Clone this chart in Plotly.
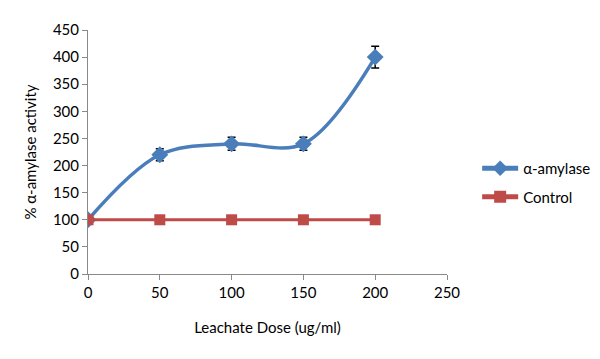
import plotly.graph_objects as go

doses = [0, 50, 100, 150, 200]
amylase = [100, 220, 240, 240, 400]
amylase_err = [0, 11, 12, 12, 20]
control = [100, 100, 100, 100, 100]
x_ticks = [0, 50, 100, 150, 200, 250]
y_ticks = [0, 50, 100, 150, 200, 250, 300, 350, 400, 450]

FONT = "Lato, 'Open Sans', sans-serif"
AXIS_COLOR = "#898989"
FS = 15

fig = go.Figure()
fig.add_trace(go.Scatter(
    x=doses, y=amylase, name="α-amylase", mode="lines+markers",
    line=dict(color="#4a7ebb", width=3.5, shape="spline", smoothing=1.0),
    marker=dict(symbol="diamond", size=13, color="#4a7ebb"),
    error_y=dict(type="data", array=amylase_err, visible=True,
                 color="#000000", thickness=1.5, width=4),
    legendgroup="a",
))
fig.add_trace(go.Scatter(
    x=doses, y=control, name="Control", mode="lines+markers",
    line=dict(color="#be4b48", width=3),
    marker=dict(symbol="square", size=11, color="#be4b48"),
    legendgroup="b",
))

fig.update_layout(
    width=600, height=359,
    margin=dict(l=80, r=161, t=13, b=93),
    paper_bgcolor="white", plot_bgcolor="white",
    font=dict(family=FONT, size=FS, color="#000000"),
    showlegend=True,
    legend=dict(x=1.084, y=0.5, xanchor="left", yanchor="top",
                tracegroupgap=6, font=dict(size=FS), itemwidth=36,
                itemsizing="constant",
                bgcolor="rgba(0,0,0,0)"),
    xaxis=dict(range=[0, 250], tickvals=x_ticks, showgrid=False, zeroline=False,
               showline=True, linecolor=AXIS_COLOR, linewidth=1,
               ticks="outside", tickcolor=AXIS_COLOR, ticklen=5,
               tickfont=dict(size=FS),
               title=dict(text="Leachate Dose (ug/ml)", standoff=22,
                          font=dict(size=FS))),
    yaxis=dict(range=[0, 450], tickvals=y_ticks, showgrid=False, zeroline=False,
               showline=True, linecolor=AXIS_COLOR, linewidth=1,
               ticks="outside", tickcolor=AXIS_COLOR, ticklen=5,
               tickfont=dict(size=FS),
               title=dict(text="% α-amylase activity", standoff=12,
                          font=dict(size=FS))),
)

fig.write_html("out.html")
